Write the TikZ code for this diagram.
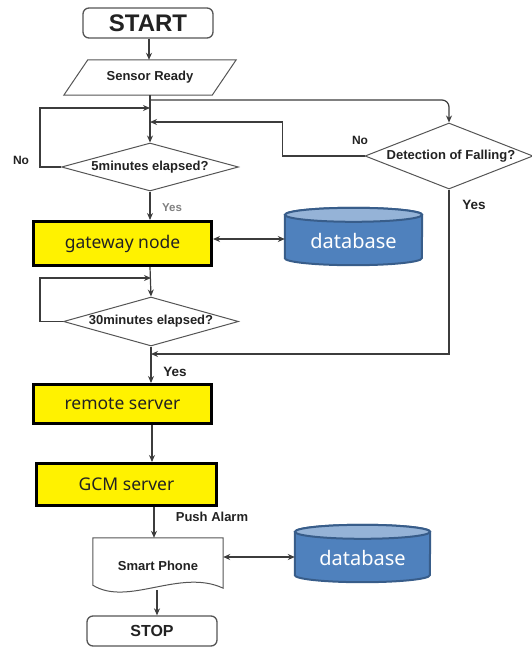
\documentclass[tikz,border=0pt]{standalone}
\usepackage{fontspec}
\usetikzlibrary{arrows.meta,shapes.geometric}
\newfontfamily\flowfont{Liberation Sans}
\newfontfamily\boxfont{Noto Sans}
\definecolor{linegray}{HTML}{3C3C3C}
\definecolor{shapegray}{HTML}{555555}
\definecolor{txtdark}{HTML}{222222}
\definecolor{dbfill}{HTML}{4F81BD}
\definecolor{dbedge}{HTML}{385D8A}
\definecolor{dbtop}{HTML}{95B3D7}
\tikzset{
  x=1pt, y=1pt,
  arr/.style={draw=linegray, line width=1.2pt, -{Stealth[length=7pt,width=6pt]}},
  darr/.style={draw=linegray, line width=1.2pt, {Stealth[length=7pt,width=6pt]}-{Stealth[length=7pt,width=6pt]}},
  plain/.style={draw=linegray, line width=1.2pt},
  terminal/.style={draw=shapegray, line width=1.3pt, rounded corners=6pt, fill=white,
    font=\flowfont\bfseries, text=txtdark},
  decision/.style={diamond, draw=shapegray, line width=1pt, inner sep=0pt, fill=white},
  dectext/.style={font=\flowfont\bfseries\fontsize{13}{15}\selectfont, text=txtdark},
  procbox/.style={draw=black, line width=3pt, fill=yellow, text=txtdark,
    font=\boxfont\fontsize{17.5}{20}\selectfont, inner sep=0pt},
  dbnode/.style={inner sep=0pt, text=white, font=\boxfont\fontsize{20}{24}\selectfont},
  dbbody/.style={fill=dbfill, draw=dbedge, line width=2pt},
  lbl/.style={font=\flowfont\bfseries, text=txtdark},
}
\begin{document}
\begin{tikzpicture}
\useasboundingbox (0,0) rectangle (532,-648);

% terminals
\node[terminal, minimum width=130, minimum height=30, font=\flowfont\bfseries\fontsize{24}{26}\selectfont] (start) at (148,-23) {START};
\node[terminal, minimum width=130, minimum height=30, font=\flowfont\bfseries\fontsize{16}{18}\selectfont] (stop) at (152,-631) {STOP};

% input block (parallelogram)
\node[minimum width=172, minimum height=35, inner sep=0pt] (sensor) at (150,-77.5) {};
\draw[draw=shapegray, line width=1pt, fill=white]
  ([xshift=24]sensor.north west) -- (sensor.north east)
  -- ([xshift=-24]sensor.south east) -- (sensor.south west) -- cycle;
\node[dectext] at (sensor) {Sensor Ready};

% decisions
\node[decision, minimum width=177, minimum height=48] (d5) at (150,-167) {};
\node[dectext] at (d5) {5minutes elapsed?};
\node[decision, minimum width=168, minimum height=66] (ddet) at (449,-156) {};
\node[dectext] at ([xshift=2]ddet) {Detection of Falling?};
\node[decision, minimum width=175, minimum height=49] (d30) at (151,-321.5) {};
\node[dectext] at (d30) {30minutes elapsed?};

% process boxes
\node[procbox, minimum width=178, minimum height=44] (gw) at (122.5,-243.5) {gateway node};
\node[procbox, minimum width=178, minimum height=39] (remote) at (122.5,-404) {remote server};
\node[procbox, minimum width=180, minimum height=42] (gcm) at (126.5,-484.5) {GCM server};

% document shape
\node[minimum width=130, minimum height=50, inner sep=0pt] (phone) at (158,-563) {};
\draw[draw=shapegray, line width=1pt, fill=white]
  (phone.north west) -- (phone.north east) -- (phone.south east)
  .. controls (180,-568) and (128,-607) .. ([yshift=3]phone.south west) -- cycle;
\node[dectext] at ([yshift=-3]phone) {Smart Phone};

% databases
\node[dbnode, minimum width=137, minimum height=57] (db1) at (353.5,-236.5) {};
\node[dbnode, minimum width=135, minimum height=57] (db2) at (362.5,-553.5) {};
\foreach \d/\r in {db1/68.5, db2/67.5}{
  \path[dbbody] ([yshift=-7]\d.north west) -- ([yshift=7]\d.south west)
    arc[start angle=180, end angle=360, x radius=\r, y radius=7]
    -- ([yshift=-7]\d.north east)
    arc[start angle=0, end angle=180, x radius=\r, y radius=7] -- cycle;
  \path[fill=dbtop, draw=dbedge, line width=2pt] ([yshift=-7]\d.north) ellipse[x radius=\r, y radius=7];
}
\node[dbnode] at ([yshift=-4]db1) {database};
\node[dbnode] at ([yshift=-4]db2) {database};

% joint points on the main line
\coordinate (j1) at (150,-100);
\coordinate (m1) at (150,-108);
\coordinate (m2) at (150,-122);
\coordinate (m3) at (151,-278);
\coordinate (m4) at (151,-354);

% connectors
\draw[arr] ([xshift=-1]start.south -| sensor.north) -- ([xshift=-1]sensor.north);
\draw[arr] (sensor.south) -- (d5.north);
\draw[arr, rounded corners=7pt] (j1) -| (ddet.north);
\draw[arr] (d5.west) -- ++(-21,0) |- (m1);
\draw[arr] (ddet.west) -- ++(-82,0) |- (m2);
\draw[arr] (d5.south) -- (d5.south |- gw.north);
\draw[darr] (gw.east |- 0,-239) -- (db1.west |- 0,-239);
\draw[arr] (d5.south |- gw.south) -- (d30.north);
\draw[arr] (d30.west) -- ++(-23,0) |- (m3);
\draw[arr] (ddet.south) |- (m4);
\draw[arr] (d30.south) -- (d30.south |- remote.north);
\draw[arr] ([xshift=1]d30.south |- remote.south) -- ([xshift=1]d30.south |- gcm.north);
\draw[arr] ([xshift=-4]phone.north |- gcm.south) -- ([xshift=-4]phone.north);
\draw[darr] (phone.east |- 0,-557) -- (db2.west |- 0,-557);
\draw[arr] ([xshift=-1]phone.south |- 0,-590) -- ([xshift=-1]phone.south |- stop.north);

% branch labels
\node[lbl, font=\flowfont\bfseries\fontsize{12}{14}\selectfont] at (21,-160) {No};
\node[lbl, font=\flowfont\bfseries\fontsize{12}{14}\selectfont] at (360,-140) {No};
\node[lbl, text=gray, font=\flowfont\bfseries\fontsize{11.5}{13}\selectfont] at (172,-208) {Yes};
\node[lbl, font=\flowfont\bfseries\fontsize{13.5}{15}\selectfont] at (474,-205) {Yes};
\node[lbl, font=\flowfont\bfseries\fontsize{13.5}{15}\selectfont] at (175,-372) {Yes};
\node[lbl, font=\flowfont\bfseries\fontsize{13}{15}\selectfont] at (212,-517) {Push Alarm};
\end{tikzpicture}
\end{document}
